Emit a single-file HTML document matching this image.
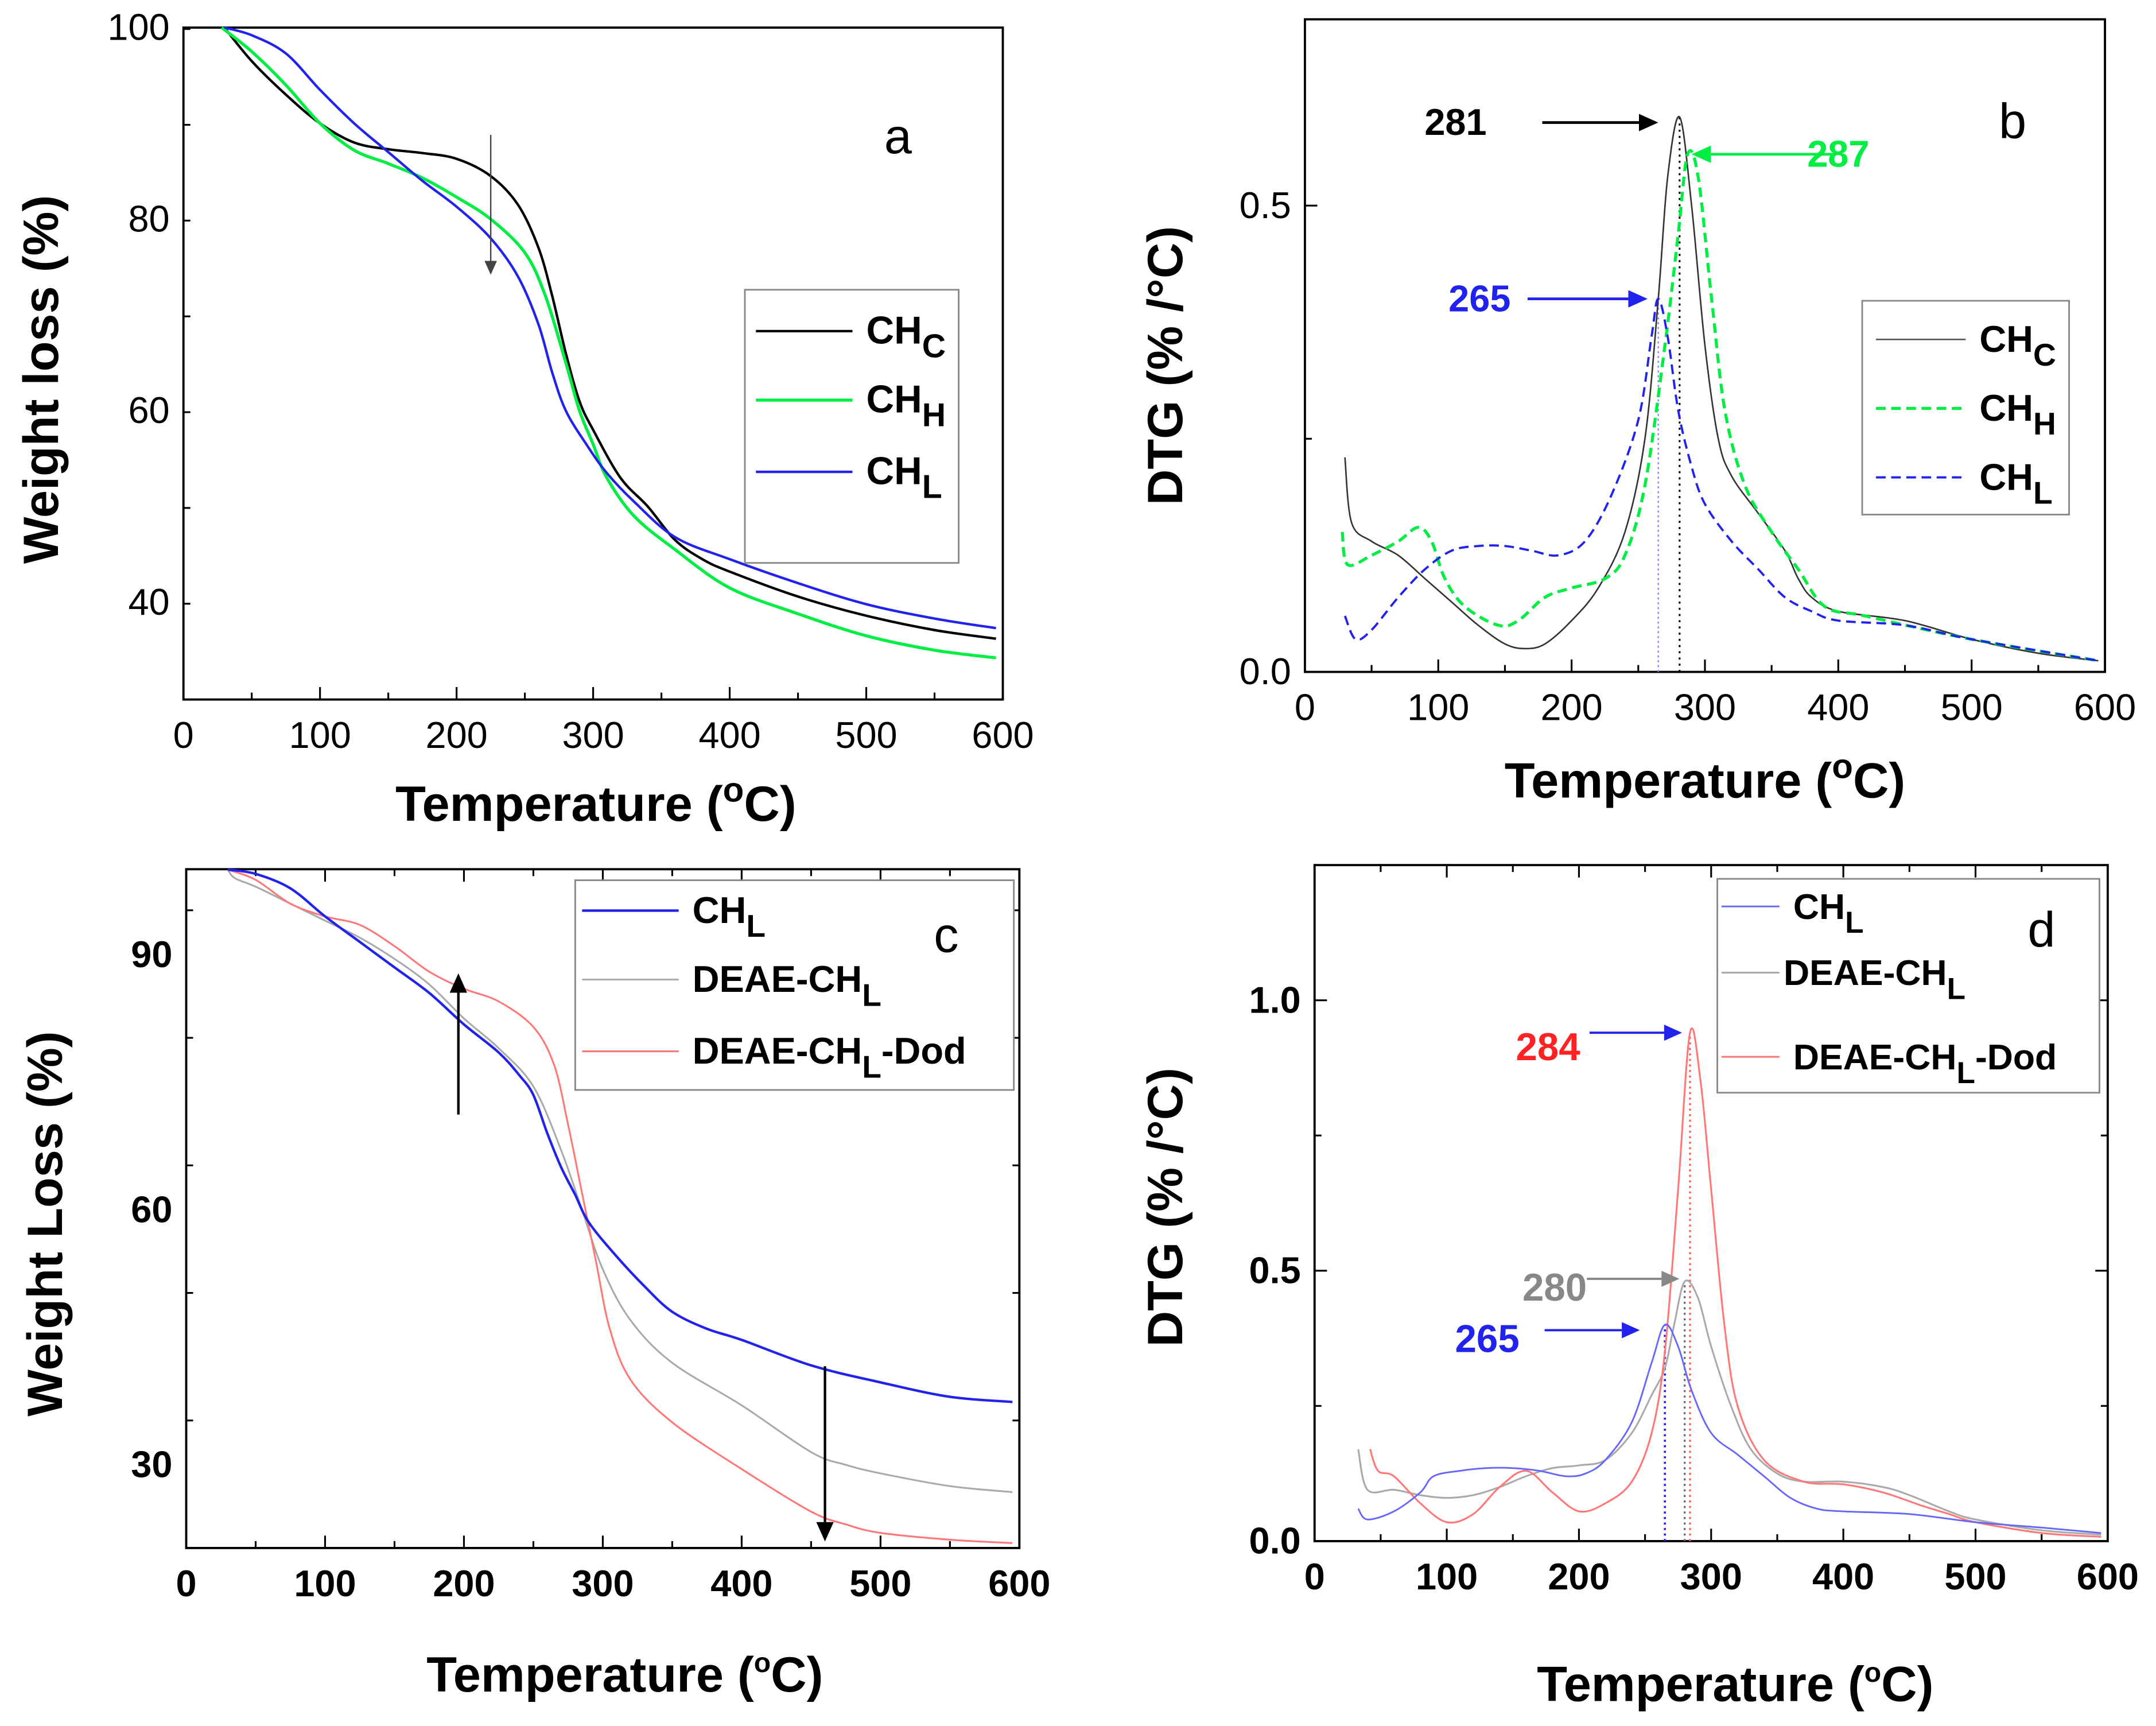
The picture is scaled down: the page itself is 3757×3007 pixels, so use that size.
<!DOCTYPE html>
<html><head><meta charset="utf-8"><style>
html,body{margin:0;padding:0;background:#fff}
svg{display:block}
text{font-family:"Liberation Sans",Arial,sans-serif}
</style></head><body>
<svg id="fig" xmlns="http://www.w3.org/2000/svg" width="3757" height="3007" viewBox="0 0 1563 1251" preserveAspectRatio="none">
<rect x="0" y="0" width="1563" height="1251" fill="#fff"/>
</svg>
<script>
// ---------- Panel a data (Weight loss %) ----------
const aCH_C_x=[30,50,75,100,125,150,175,200,225,245,260,270,280,290,300,320,340,360,380,400,450,500,550,595];
const aCH_C_y=[100,96.5,93,90,88,87.3,86.9,86.3,84.5,81.5,77,72,66,61,58,53,50,46.5,44.5,43.2,40.6,38.6,37.1,36.2];
const aCH_H_x=[28,50,75,100,125,150,175,200,225,250,265,280,290,300,310,330,360,400,450,500,550,595];
const aCH_H_y=[100,97.5,94,90,87.2,85.8,84.3,82.3,80,76.5,72,65,60,56.5,53,49,45.5,41.5,38.8,36.5,35,34.2];
const aCH_L_x=[30,50,75,100,125,150,175,200,225,245,260,270,280,295,310,330,360,400,450,500,550,595];
const aCH_L_y=[100,99.2,97.3,93.5,90,87,84,81.3,78,74,69,64,60,56.5,53.5,50.5,46.8,44.5,42,39.8,38.3,37.3];
// ---------- Panel b data (DTG) ----------
const bCH_C_x=[30,35,50,70,90,110,130,150,165,180,200,220,240,255,265,272,281,290,300,310,320,340,360,370,380,400,450,500,550,595];
const bCH_C_y=[0.23,0.16,0.14,0.125,0.10,0.075,0.05,0.03,0.025,0.03,0.055,0.09,0.15,0.25,0.40,0.53,0.595,0.50,0.35,0.25,0.21,0.17,0.13,0.10,0.08,0.065,0.055,0.035,0.02,0.012];
const bCH_H_x=[28,32,50,70,85,95,105,120,145,160,180,200,225,240,255,270,280,287,295,305,315,330,350,370,390,420,500,595];
const bCH_H_y=[0.15,0.115,0.125,0.14,0.155,0.14,0.10,0.07,0.05,0.055,0.08,0.09,0.10,0.125,0.20,0.35,0.47,0.555,0.53,0.40,0.28,0.20,0.15,0.11,0.07,0.06,0.035,0.012];
const bCH_L_x=[30,38,50,70,90,110,130,150,170,190,210,230,250,260,265,272,280,290,300,320,340,360,380,400,450,500,595];
const bCH_L_y=[0.06,0.035,0.045,0.08,0.11,0.13,0.135,0.135,0.13,0.125,0.14,0.19,0.27,0.36,0.40,0.36,0.28,0.22,0.18,0.14,0.11,0.08,0.065,0.055,0.05,0.035,0.012];
// ---------- Panel c data ----------
const cCH_L_x=[30,50,75,100,125,150,175,200,225,240,250,260,270,280,290,310,330,350,375,400,450,500,550,595];
const cCH_L_y=[100,99.5,97.8,94.5,91.5,88.5,85.5,81.8,78.5,75.8,73.5,69,65,61.8,58.5,54.5,51,48,46,44.7,41.7,39.7,38,37.4];
const cDEAE_x=[30,35,50,75,100,125,150,175,200,225,250,270,285,300,320,350,400,450,475,500,550,595];
const cDEAE_y=[100,99,98,96,94,92,89.5,86.5,82.5,79,74.5,67,60,53,47,42,37,31.5,30,29,27.5,26.8];
const cDod_x=[30,50,75,100,125,150,175,200,225,250,265,275,285,295,305,320,350,400,450,475,500,550,595];
const cDod_y=[100,98.8,96,94.5,93.5,91,88,86,84.5,81.5,77,70,62,54,46,40,35,29.5,24.5,23,22,21.2,20.8];
// ---------- Panel d data ----------
const dCH_L_x=[33,40,60,80,90,110,130,150,170,190,205,220,240,255,265,275,285,300,320,340,360,380,400,450,500,550,595];
const dCH_L_y=[0.06,0.04,0.055,0.09,0.12,0.13,0.135,0.135,0.13,0.12,0.125,0.15,0.22,0.33,0.40,0.36,0.28,0.20,0.16,0.12,0.08,0.06,0.055,0.05,0.035,0.025,0.015];
const dDEAE_x=[33,40,60,80,100,120,140,160,180,200,220,240,255,265,272,280,290,300,315,330,350,370,400,430,450,480,500,550,595];
const dDEAE_y=[0.17,0.095,0.095,0.085,0.08,0.085,0.10,0.12,0.135,0.14,0.15,0.20,0.27,0.32,0.40,0.48,0.45,0.36,0.25,0.17,0.125,0.11,0.11,0.10,0.085,0.055,0.04,0.02,0.012];
const dDod_x=[42,48,60,80,100,120,140,160,180,200,220,240,255,265,275,284,292,300,310,320,340,370,400,430,460,480,500,550,595];
const dDod_y=[0.17,0.13,0.12,0.07,0.035,0.05,0.10,0.13,0.09,0.055,0.07,0.11,0.20,0.35,0.65,0.94,0.85,0.65,0.40,0.25,0.15,0.11,0.105,0.09,0.065,0.05,0.035,0.015,0.008];
// ---------- Tick labels ----------
const xTicks=[0,100,200,300,400,500,600];
const aYTicks=[40,60,80,100];
const bYTicks=[0.0,0.5];
const cYTicks=[30,60,90];
const dYTicks=[0.0,0.5,1.0];
const bPeaks=[281,287,265];
const dPeaks=[284,280,265];

const svg=document.getElementById('fig');
const NS='http://www.w3.org/2000/svg';
function mk(tag,attrs,parent){const e=document.createElementNS(NS,tag);for(const k in attrs)e.setAttribute(k,attrs[k]);(parent||svg).appendChild(e);return e;}

function makeAxes(p){
  const sx=v=>p.x0+(v-p.xmin)/(p.xmax-p.xmin)*(p.x1-p.x0);
  const sy=v=>p.y1-(v-p.ymin)/(p.ymax-p.ymin)*(p.y1-p.y0);
  return {sx,sy};
}
function drawFrame(p,ax,g){
  const r=mk('rect',{x:p.x0,y:p.y0,width:p.x1-p.x0,height:p.y1-p.y0,fill:'none',stroke:'#000','stroke-width':1.6},g);
  
  
  const fw=p.bold?'bold':'normal';
  for(let v=0;v<=600;v+=50){
    const L=(v%100===0)?9:5;
    const t=mk('line',{x1:ax.sx(v),x2:ax.sx(v),y1:p.y1,y2:p.y1-L,stroke:'#000','stroke-width':1.3},g);
    
    
    if(p.mirror){mk('line',{x1:ax.sx(v),x2:ax.sx(v),y1:p.y0,y2:p.y0+L,stroke:'#000','stroke-width':1.3},g);}
  }
  xTicks.forEach(v=>{
    const t=mk('text',{x:ax.sx(v),y:p.y1+35,'font-size':27,'text-anchor':'middle','font-weight':fw},g);
    t.textContent=String(v);
    
    
  });
  for(let v=p.ymin;v<=p.ymax+1e-9;v+=p.minor){
    const vv=Math.round(v*1000)/1000;
    const major=p.yTicks.some(t=>Math.abs(t-vv)<1e-6);
    const L=major?9:5;
    const yy=ax.sy(vv);
    if(yy<p.y0-0.5||yy>p.y1+0.5)continue;
    const t=mk('line',{x1:p.x0,x2:p.x0+L,y1:yy,y2:yy,stroke:'#000','stroke-width':1.3},g);
    
    
    if(p.mirror){mk('line',{x1:p.x1,x2:p.x1-L,y1:yy,y2:yy,stroke:'#000','stroke-width':1.3},g);}
  }
  p.yTicks.forEach(v=>{
    const t=mk('text',{x:p.x0-10,y:ax.sy(v)+9,'font-size':27,'text-anchor':'end','font-weight':fw},g);
    t.textContent=p.yFmt(v);
    
    
  });
  const xt=mk('text',{x:p.xtx,y:p.xty,'font-size':36,'font-weight':'bold','text-anchor':'middle'},g);
  
  
  xt.appendChild(document.createTextNode('Temperature ('));
  const s=mk('tspan',{dy:-14,'font-size':p.degSize||25},xt);s.textContent=p.deg;
  const s2=mk('tspan',{dy:14},xt);s2.textContent='C)';
  const yt=mk('text',{x:p.ytx,y:p.yty,'font-size':36,'font-weight':'bold','text-anchor':'middle',transform:`rotate(-90 ${p.ytx} ${p.yty})`},g);
  yt.textContent=p.ytitle;
  
  
  const lab=mk('text',{x:p.labx,y:p.laby,'font-size':36,'text-anchor':'middle'},g);
  lab.textContent=p.label;
  
  
}
function curvePath(xs,ys,ax){
  const pts=xs.map((x,i)=>[ax.sx(x),ax.sy(ys[i])]);
  let d='M'+pts[0][0].toFixed(2)+','+pts[0][1].toFixed(2);
  for(let i=0;i<pts.length-1;i++){
    const p0=pts[Math.max(0,i-1)],p1=pts[i],p2=pts[i+1],p3=pts[Math.min(pts.length-1,i+2)];
    const c1=[p1[0]+(p2[0]-p0[0])/6,p1[1]+(p2[1]-p0[1])/6];
    const c2=[p2[0]-(p3[0]-p1[0])/6,p2[1]-(p3[1]-p1[1])/6];
    d+=` C${c1[0].toFixed(2)},${c1[1].toFixed(2)} ${c2[0].toFixed(2)},${c2[1].toFixed(2)} ${p2[0].toFixed(2)},${p2[1].toFixed(2)}`;
  }
  return d;
}
function series(xs,ys,ax,color,w,dash,name,g){
  const e=mk('path',{d:curvePath(xs,ys,ax),fill:'none',stroke:color,'stroke-width':w,'stroke-linejoin':'round'},g);
  if(dash)e.setAttribute('stroke-dasharray',dash);
  
  
  return e;
}
function arrow(x1,y1,x2,y2,color,w,head,g,name){
  const ang=Math.atan2(y2-y1,x2-x1);
  const bx=x2-head*Math.cos(ang),by=y2-head*Math.sin(ang);
  const grp=mk('g',{},g);
  
  
  mk('line',{x1:x1,y1:y1,x2:bx,y2:by,stroke:color,'stroke-width':w},grp);
  const hw=head*0.45;
  const px=-Math.sin(ang)*hw,py=Math.cos(ang)*hw;
  mk('polygon',{points:`${x2},${y2} ${bx+px},${by+py} ${bx-px},${by-py}`,fill:color},grp);
}
function legendEntry(g,x1,x2,y,color,w,dash,tx,main,sub,tail,fs){
  const grp=mk('g',{},g);
  
  
  const l=mk('line',{x1:x1,x2:x2,y1:y,y2:y,stroke:color,'stroke-width':w},grp);
  if(dash)l.setAttribute('stroke-dasharray',dash);
  const t=mk('text',{x:tx,y:y+9,'font-size':fs,'font-weight':'bold'},grp);
  t.appendChild(document.createTextNode(main));
  const s=mk('tspan',{dy:10,'font-size':fs*0.85},t);s.textContent=sub;
  if(tail){const s2=mk('tspan',{dy:-10},t);s2.textContent=tail;}
}

// ===== Panel a =====
(function(){
  const p={x0:133,x1:727,y0:20,y1:507,xmin:0,xmax:600,ymin:29.85,ymax:100,yTicks:aYTicks,minor:10,yFmt:v=>String(v),bold:false,
    xtx:432,xty:595,deg:'o',ytx:42,yty:275,ytitle:'Weight loss (%)',label:'a',labx:651,laby:111};
  const g=mk('g',{});
  const ax=makeAxes(p);drawFrame(p,ax,g);
  series(aCH_C_x,aCH_C_y,ax,'#000',1.8,null,'series-ch-c',g);
  series(aCH_H_x,aCH_H_y,ax,'#00ee44',2.2,null,'series-ch-h',g);
  series(aCH_L_x,aCH_L_y,ax,'#2222ee',1.8,null,'series-ch-l',g);
  arrow(ax.sx(225),ax.sy(88.8),ax.sx(225),ax.sy(74.2),'#444',1,10,g,'trend-arrow');
  const lb=mk('rect',{x:540,y:210,width:155,height:198,fill:'#fff',stroke:'#888','stroke-width':1.2},g);
  
  legendEntry(g,548,618,240,'#000',1.8,null,628,'CH','C','',28);
  legendEntry(g,548,618,290,'#00ee44',2.2,null,628,'CH','H','',28);
  legendEntry(g,548,618,342,'#2222ee',1.8,null,628,'CH','L','',28);
})();

// ===== Panel b =====
(function(){
  const p={x0:946,x1:1526,y0:14,y1:487,xmin:0,xmax:600,ymin:0,ymax:0.6997,yTicks:bYTicks,minor:0.25,yFmt:v=>v.toFixed(1),bold:false,
    xtx:1236,xty:578,deg:'o',ytx:857,yty:265,ytitle:'DTG (% /°C)',label:'b',labx:1459,laby:100};
  const g=mk('g',{});
  const ax=makeAxes(p);drawFrame(p,ax,g);
  mk('line',{x1:ax.sx(bPeaks[2]),x2:ax.sx(bPeaks[2]),y1:ax.sy(0),y2:ax.sy(0.40),stroke:'#8888ff','stroke-width':1,'stroke-dasharray':'1.5,2'},g);
  mk('line',{x1:ax.sx(bPeaks[0]),x2:ax.sx(bPeaks[0]),y1:ax.sy(0),y2:ax.sy(0.595),stroke:'#000','stroke-width':1.3,'stroke-dasharray':'1.5,3'},g);
  series(bCH_C_x,bCH_C_y,ax,'#333',1.1,null,'series-ch-c',g);
  series(bCH_H_x,bCH_H_y,ax,'#00ee44',2.2,'7,4','series-ch-h',g);
  series(bCH_L_x,bCH_L_y,ax,'#2222ee',1.6,'7,4','series-ch-l',g);
  const ann=[[bPeaks[0],113,0.589,178,265,'#000'],[bPeaks[1],400,0.555,397,290,'#00ee44'],[bPeaks[2],131,0.40,167,257,'#2222ee']];
  ann.forEach(a=>{
    const t=mk('text',{x:ax.sx(a[1]),y:ax.sy(a[2])+9,'font-size':27,'font-weight':'bold','text-anchor':'middle',fill:a[5]},g);
    t.textContent=String(a[0]);
    
    arrow(ax.sx(a[3]),ax.sy(a[2]),ax.sx(a[4]),ax.sy(a[2]),a[5],2,14,g,'peak-arrow');
  });
  const lb=mk('rect',{x:1350,y:218,width:150,height:155,fill:'#fff',stroke:'#888','stroke-width':1.2},g);
  
  legendEntry(g,1360,1425,246,'#555',1.1,null,1435,'CH','C','',27);
  legendEntry(g,1360,1425,296,'#00ee44',2.2,'7,4',1435,'CH','H','',27);
  legendEntry(g,1360,1425,346,'#2222ee',1.6,'7,4',1435,'CH','L','',27);
})();

// ===== Panel c =====
(function(){
  const p={x0:135,x1:739,y0:630,y1:1122,xmin:0,xmax:600,ymin:20.22,ymax:100.05,yTicks:cYTicks,minor:15,yFmt:v=>String(v),bold:true,
    xtx:453,xty:1226,deg:'o',degSize:20,ytx:45,yty:887,ytitle:'Weight Loss (%)',label:'c',labx:686,laby:690};
  const g=mk('g',{});
  p.mirror=true;
  const ax=makeAxes(p);drawFrame(p,ax,g);
  series(cDEAE_x,cDEAE_y,ax,'#aaa',1.3,null,'series-deae-ch-l',g);
  series(cDod_x,cDod_y,ax,'#ff7777',1.3,null,'series-deae-ch-l-dod',g);
  series(cCH_L_x,cCH_L_y,ax,'#2222ee',1.8,null,'series-ch-l',g);
  arrow(ax.sx(196),ax.sy(71.2),ax.sx(196),ax.sy(87.8),'#000',1.8,14,g,'up-arrow');
  arrow(ax.sx(460),ax.sy(41.6),ax.sx(460),ax.sy(21),'#000',1.8,14,g,'down-arrow');
  const lb=mk('rect',{x:417,y:638,width:318,height:152,fill:'#fff',stroke:'#888','stroke-width':1.2},g);
  
  legendEntry(g,422,492,660,'#2222ee',1.8,null,502,'CH','L','',27);
  legendEntry(g,422,492,710,'#aaa',1.3,null,502,'DEAE-CH','L','',27);
  legendEntry(g,422,492,762,'#ff7777',1.3,null,502,'DEAE-CH','L','-Dod',27);
  const lab=mk('text',{x:686,y:690,'font-size':36,'text-anchor':'middle'},g);
  lab.textContent='c';
})();

// ===== Panel d =====
(function(){
  const p={x0:953,x1:1528,y0:627,y1:1117,xmin:0,xmax:600,ymin:0,ymax:1.25,yTicks:dYTicks,minor:0.25,yFmt:v=>v.toFixed(1),bold:true,
    xtx:1258,xty:1233,deg:'o',degSize:20,ytx:857,yty:875,ytitle:'DTG (% /°C)',label:'d',labx:1480,laby:686};
  const g=mk('g',{});
  p.mirror=true;
  const ax=makeAxes(p);drawFrame(p,ax,g);
  mk('line',{x1:ax.sx(dPeaks[2]),x2:ax.sx(dPeaks[2]),y1:ax.sy(0),y2:ax.sy(0.40),stroke:'#2222ee','stroke-width':1.5,'stroke-dasharray':'1.5,2.5'},g);
  mk('line',{x1:ax.sx(dPeaks[1]),x2:ax.sx(dPeaks[1]),y1:ax.sy(0),y2:ax.sy(0.48),stroke:'#666','stroke-width':1.3,'stroke-dasharray':'1.5,2.5'},g);
  mk('line',{x1:ax.sx(dPeaks[0]),x2:ax.sx(dPeaks[0]),y1:ax.sy(0),y2:ax.sy(0.94),stroke:'#ff5555','stroke-width':1.3,'stroke-dasharray':'1.5,2.5'},g);
  series(dDEAE_x,dDEAE_y,ax,'#aaa',1.3,null,'series-deae-ch-l',g);
  series(dDod_x,dDod_y,ax,'#ff7777',1.3,null,'series-deae-ch-l-dod',g);
  series(dCH_L_x,dCH_L_y,ax,'#6666ff',1.2,null,'series-ch-l',g);
  const ann=[[dPeaks[0],201,0.915,208,278,0.94,'#ff2222','#2222ee'],[dPeaks[1],206,0.47,206,276,0.485,'#888','#888'],[dPeaks[2],155,0.375,174,246,0.39,'#2222ee','#2222ee']];
  ann.forEach(a=>{
    const t=mk('text',{x:ax.sx(a[1]),y:ax.sy(a[2])+10,'font-size':28,'font-weight':'bold','text-anchor':'end',fill:a[6]},g);
    t.textContent=String(a[0]);
    
    arrow(ax.sx(a[3]),ax.sy(a[5]),ax.sx(a[4]),ax.sy(a[5]),a[7],1.6,13,g,'peak-arrow');
  });
  const lb=mk('rect',{x:1245,y:637,width:277,height:155,fill:'#fff',stroke:'#888','stroke-width':1.2},g);
  
  legendEntry(g,1248,1290,657,'#6666ff',1.2,null,1300,'CH','L','',26);
  legendEntry(g,1248,1290,705,'#aaa',1.3,null,1293,'DEAE-CH','L','',26);
  legendEntry(g,1248,1290,766,'#ff7777',1.3,null,1300,'DEAE-CH','L','-Dod',26);
  const lab=mk('text',{x:1480,y:686,'font-size':36,'text-anchor':'middle'},g);
  lab.textContent='d';
})();
</script>
</body></html>
